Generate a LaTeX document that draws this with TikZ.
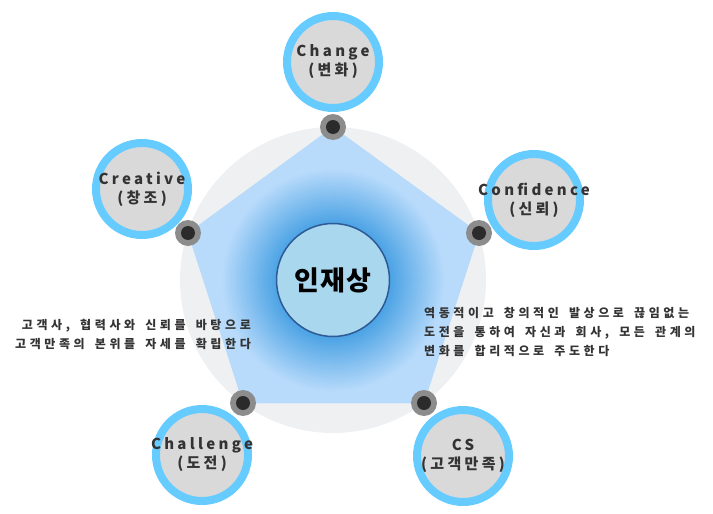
\documentclass[tikz,border=0pt]{standalone}
\usepackage{fontspec}
\newfontfamily\krfont[LetterSpace=22]{Noto Sans CJK KR}
\newfontfamily\krnote[LetterSpace=30, WordSpace=1.6]{Noto Sans CJK KR}
\newfontfamily\krplain[LetterSpace=4]{Noto Sans CJK KR}
\usetikzlibrary{positioning}

\definecolor{ringblue}{HTML}{66CCFF}
\definecolor{capgray}{HTML}{D9D9D9}
\definecolor{backgray}{HTML}{EFF0F2}
\definecolor{paleblue}{HTML}{B9DBFB}
\definecolor{glowblue}{HTML}{4AA2E4}
\definecolor{coreblue}{HTML}{A9D7EE}
\definecolor{coreline}{HTML}{2E5A96}
\definecolor{dotgray}{HTML}{8C8C8C}
\definecolor{dotdark}{HTML}{2B2B2B}
\definecolor{txtgray}{HTML}{333333}

\pgfdeclareradialshading{glow}{\pgfpoint{0bp}{0bp}}{color(0bp)=(glowblue); color(7bp)=(glowblue); color(14bp)=(paleblue); color(50bp)=(paleblue)}

\begin{document}
\begin{tikzpicture}[
		x=1pt, y=-1pt,
		value/.style={circle, draw=ringblue, line width=8pt, fill=capgray, minimum size=92pt, inner sep=0pt},
		tag/.style={align=center, inner sep=0pt, text=txtgray, font=\krfont\bfseries\fontsize{15}{19}\selectfont},
		joint/.style={circle, fill=dotgray, minimum size=26pt, inner sep=0pt, path picture={\fill[dotdark] (path picture bounding box.center) circle (7pt);}},
		core/.style={circle, draw=coreline, line width=1.5pt, fill=coreblue, minimum size=113pt, inner sep=0pt, font=\krplain\bfseries\fontsize{27}{30}\selectfont},
		note/.style={inner sep=0pt, text=txtgray, font=\krnote\bfseries\fontsize{12}{19}\selectfont}
		]
	
		\useasboundingbox (0,0) rectangle (713,514);
	
		% Fond et pentagone
		\fill[backgray] (333,280) circle (153pt);
		\coordinate (p1) at (333,127);
		\coordinate (p2) at (479,233);
		\coordinate (p3) at (424,403);
		\coordinate (p4) at (243,403);
		\coordinate (p5) at (188,233);
		\fill[paleblue] (p1) -- (p2) -- (p3) -- (p4) -- (p5) -- cycle;
		\begin{scope}
			\clip (p1) -- (p2) -- (p3) -- (p4) -- (p5) -- cycle;
			\shade[shading=glow] (333,280) circle (200pt);
		\end{scope}
	
		% Points
		\node[joint] (j1) at (p1) {};
		\node[joint] (j2) at (p2) {};
		\node[joint] (j3) at (p3) {};
		\node[joint] (j4) at (p4) {};
		\node[joint] (j5) at (p5) {};
	
		\node[core] (core) at (333,280) {인재상};
	
		% Valeurs
		\node[value, label={[tag]center:{Change\\(변화)}}] (change) at (333,62) {};
		\node[value, label={[tag]center:{Confidence\\(신뢰)}}] (confidence) at (534,200) {};
		\node[value, label={[tag]center:{CS\\(고객만족)}}] (cs) at (463,456) {};
		\node[value, label={[tag]center:{Challenge\\(도전)}}] (challenge) at (202,455) {};
		\node[value, label={[tag]center:{Creative\\(창조)}}] (creative) at (142,189) {};
	
		% Textes
		\node[note, anchor=east, align=right] (leftnote) at (251,334) {고객사, 협력사와 신뢰를 바탕으로\\고객만족의 본위를 자세를 확립한다};
		\node[note, anchor=west, align=left] (rightnote) at (424,332) {역동적이고 창의적인 발상으로 끊임없는\\도전을 통하여 자신과 회사, 모든 관계의\\변화를 합리적으로 주도한다};
	\end{tikzpicture}
\end{document}
